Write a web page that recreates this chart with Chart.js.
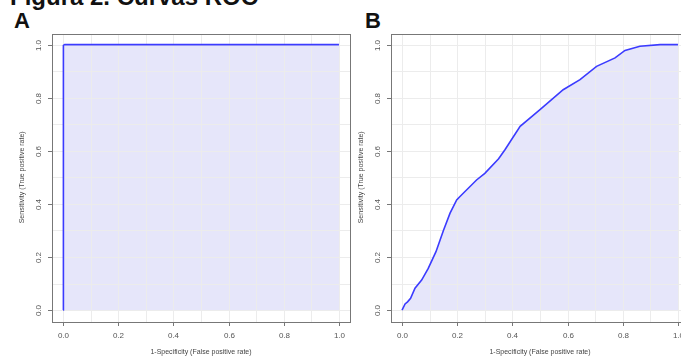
<!DOCTYPE html>
<html>
<head>
<meta charset="utf-8">
<script src="https://cdn.jsdelivr.net/npm/chart.js@4.4.1/dist/chart.umd.min.js"></script>
<style>
  html, body { margin: 0; padding: 0; background: #fff; width: 681px; height: 358px; overflow: hidden; }
  body { position: relative; font-family: "Liberation Sans", Arial, sans-serif; }
  .head { position: absolute; left: 10px; top: -15px; font-size: 24px; line-height: 24px; font-weight: bold; color: #111; white-space: nowrap; }
  .panel-label { position: absolute; top: 10px; font-size: 22px; line-height: 22px; font-weight: bold; color: #111; }
  canvas { position: absolute; top: 0; }
</style>
</head>
<body>
<div class="head">Figura 2. Curvas ROC</div>
<div class="panel-label" style="left:14px">A</div>
<div class="panel-label" style="left:365px">B</div>
<canvas id="rocA" width="352" height="358" style="left:0"></canvas>
<canvas id="rocB" width="340" height="358" style="left:352px"></canvas>

<script>
// ROC curve A (near perfect classifier)
const fprA = [0, 0, 0.001, 0.003, 0.006, 1];
const tprA = [0, 0.95, 0.985, 0.997, 1, 1];

// ROC curve B
const fprB = [0, 0.011, 0.02, 0.031, 0.047, 0.071, 0.095, 0.123, 0.15, 0.174, 0.198, 0.21, 0.27, 0.3, 0.35, 0.373, 0.428, 0.5, 0.584, 0.645, 0.705, 0.772, 0.808, 0.862, 0.935, 1.0];
const tprB = [0, 0.023, 0.031, 0.044, 0.082, 0.113, 0.157, 0.22, 0.30, 0.365, 0.415, 0.428, 0.49, 0.515, 0.57, 0.604, 0.692, 0.755, 0.83, 0.868, 0.918, 0.95, 0.978, 0.994, 1.0, 1.0];

const tickValues = [0, 0.2, 0.4, 0.6, 0.8, 1.0];
const tickLabels = ["0.0", "0.2", "0.4", "0.6", "0.8", "1.0"];
const gridValues = [0, 0.1, 0.2, 0.3, 0.4, 0.5, 0.6, 0.7, 0.8, 0.9, 1.0];

const xTitle = "1-Specificity (False positive rate)";
const yTitle = "Sensitivity (True positive rate)";

const FONT = '"Liberation Sans", Arial, sans-serif';

// R-style frame: grid under the curve, box + outward ticks on top
const rFrame = {
  id: "rFrame",
  beforeDatasetsDraw(chart) {
    const { ctx, chartArea: a, scales: { x, y } } = chart;
    ctx.save();
    ctx.strokeStyle = "#ececec";
    ctx.lineWidth = 1;
    gridValues.forEach(v => {
      const px = Math.round(x.getPixelForValue(v)) + 0.5;
      const py = Math.round(y.getPixelForValue(v)) + 0.5;
      ctx.beginPath();
      ctx.moveTo(px, a.top); ctx.lineTo(px, a.bottom);
      ctx.moveTo(a.left, py); ctx.lineTo(a.right, py);
      ctx.stroke();
    });
    ctx.restore();
  },
  afterDraw(chart) {
    const { ctx, chartArea: a, scales: { x, y } } = chart;
    ctx.save();
    ctx.strokeStyle = "#777";
    ctx.lineWidth = 1;
    ctx.strokeRect(Math.round(a.left) + 0.5, Math.round(a.top) + 0.5, Math.round(a.right - a.left), Math.round(a.bottom - a.top));

    ctx.fillStyle = "#555";
    ctx.font = "8px " + FONT;
    ctx.textAlign = "center";
    ctx.textBaseline = "middle";
    tickValues.forEach((v, i) => {
      const px = Math.round(x.getPixelForValue(v)) + 0.5;
      const py = Math.round(y.getPixelForValue(v)) + 0.5;
      ctx.beginPath();
      ctx.moveTo(px, a.bottom); ctx.lineTo(px, a.bottom + 4);
      ctx.moveTo(a.left, py); ctx.lineTo(a.left - 4, py);
      ctx.stroke();

      ctx.fillText(tickLabels[i], px, a.bottom + 14);
      ctx.save();
      ctx.translate(a.left - 13, py);
      ctx.rotate(-Math.PI / 2);
      ctx.fillText(tickLabels[i], 0, 0);
      ctx.restore();
    });

    ctx.fillStyle = "#444";
    ctx.font = "7px " + FONT;
    ctx.fillText(xTitle, (x.getPixelForValue(0) + x.getPixelForValue(1)) / 2, a.bottom + 30);
    ctx.save();
    ctx.translate(a.left - 30, (y.getPixelForValue(0) + y.getPixelForValue(1)) / 2);
    ctx.rotate(-Math.PI / 2);
    ctx.fillText(yTitle, 0, 0);
    ctx.restore();
    ctx.restore();
  }
};

function makeRoc(id, fpr, tpr, padding) {
  const el = document.getElementById(id);
  return new Chart(el, {
    type: "scatter",
    data: {
      datasets: [{
        data: fpr.map((v, i) => ({ x: v, y: tpr[i] })),
        showLine: true,
        borderColor: "#3b3bff",
        borderWidth: 1.6,
        pointRadius: 0,
        tension: 0,
        fill: "origin",
        backgroundColor: "#e6e6fa"
      }]
    },
    options: {
      responsive: false,
      animation: false,
      events: [],
      layout: { padding },
      plugins: {
        legend: { display: false },
        tooltip: { enabled: false },
        filler: { drawTime: "beforeDatasetsDraw" }
      },
      scales: {
        x: { type: "linear", display: false, min: -0.04, max: 1.04 },
        y: { type: "linear", display: false, min: -0.045, max: 1.04 }
      }
    },
    plugins: [rFrame]
  });
}

makeRoc("rocA", fprA, tprA, { left: 52, top: 34, right: 2, bottom: 36 });
makeRoc("rocB", fprB, tprB, { left: 39, top: 34, right: 3, bottom: 36 });
</script>
</body>
</html>
